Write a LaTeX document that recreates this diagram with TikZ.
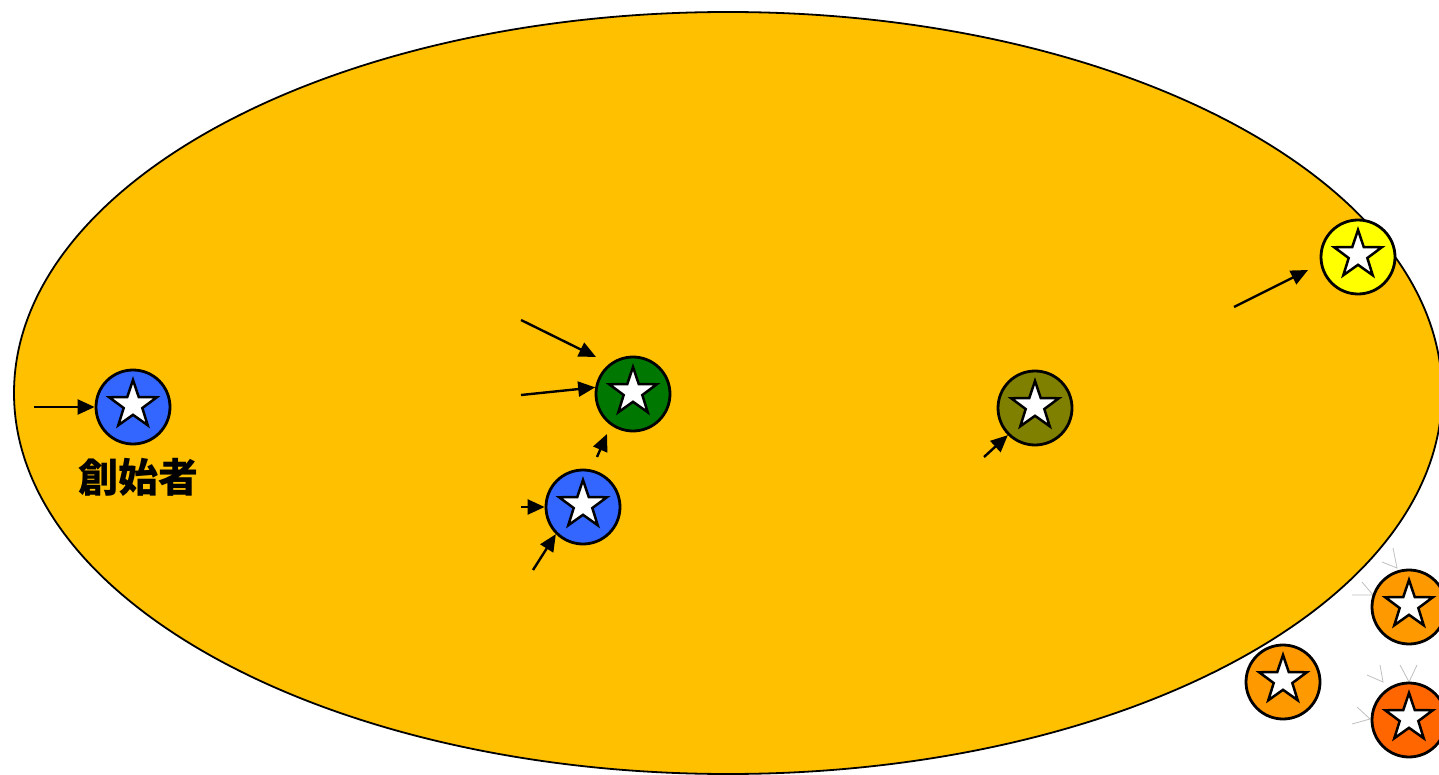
\documentclass[tikz,border=0pt]{standalone}
\usepackage{fontspec}
\newfontfamily\cjk{Noto Sans CJK JP}
\usetikzlibrary{shapes.geometric,arrows.meta}
\definecolor{ellfill}{HTML}{FFC000}
\definecolor{cblue}{HTML}{3366FF}
\definecolor{cgreen}{HTML}{007700}
\definecolor{colive}{HTML}{808000}
\definecolor{cyellow}{HTML}{FFFF00}
\definecolor{corange}{HTML}{FF9900}
\definecolor{cdorange}{HTML}{FF6600}
\definecolor{ghost}{HTML}{C0C0C0}
\tikzset{
  member/.style={circle, draw=black, line width=2.8pt, minimum size=74pt, inner sep=0pt},
  starmark/.style={star, star points=5, star point ratio=2.55, draw=black, line width=2.5pt, fill=white, minimum size=50pt, inner sep=0pt},
  arr/.style={line width=2.4pt, -{Triangle[length=17pt,width=15pt]}},
  ghostline/.style={draw=ghost, line width=0.8pt}
}
\begin{document}
\begin{tikzpicture}[x=1pt,y=-1pt]
\useasboundingbox (0,0) rectangle (1439,775);
\clip (0,0) rectangle (1439,775);
\fill[white] (0,0) rectangle (1439,775);
\draw[fill=ellfill, line width=1.8pt] (728,393) ellipse [x radius=714, y radius=381];

% ghost arrowheads
\draw[ghostline] (1393,548) -- (1397,568) -- (1382,562);
\draw[ghostline] (1362,582) -- (1373,595) -- (1352,595);
\draw[ghostline] (1380,665) -- (1383,682) -- (1367,675);
\draw[ghostline] (1400,665) -- (1409,682) -- (1417,665);
\draw[ghostline] (1357,707) -- (1370,719) -- (1352,724);

% members
\node[member, fill=cblue] (founder) at (133,407) {};
\node[starmark] (sfounder) at (133,405) {};
\node[member, fill=cgreen] (green) at (633,394) {};
\node[starmark] (sgreen) at (633,392) {};
\node[member, fill=cblue] (blue) at (583,507) {};
\node[starmark] (sblue) at (583,505) {};
\node[member, fill=colive] (olive) at (1035,408) {};
\node[starmark] (solive) at (1035,406) {};
\node[member, fill=cyellow] (yellow) at (1358,257) {};
\node[starmark] (syellow) at (1358,255) {};
\node[member, fill=corange] (orangeA) at (1409,607) {};
\node[starmark] (sorangeA) at (1409,605) {};
\node[member, fill=corange] (orangeB) at (1283,682) {};
\node[starmark] (sorangeB) at (1283,680) {};
\node[member, fill=cdorange] (orangeC) at (1409,720) {};
\node[starmark] (sorangeC) at (1409,718) {};

\node[font=\cjk\bfseries\fontsize{40}{44}\selectfont] (label) at (138,477) {創始者};

% arrow start and end points
\coordinate (a1) at (34,407);
\coordinate (a2) at (521,320);
\coordinate (e2) at (596,357);
\coordinate (a3) at (521,395);
\coordinate (a4) at (597,457);
\coordinate (e4) at (607,434);
\coordinate (a5) at (521,507);
\coordinate (a6) at (533,570);
\coordinate (a7) at (984,457);
\coordinate (a8) at (1234,307);
\coordinate (e8) at (1308,270);

\draw[arr] (a1) -- (founder.west);
\draw[arr] (a2) -- (e2);
\draw[arr] (a3) -- (green.170);
\draw[arr] (a4) -- (e4);
\draw[arr] (a5) -- (blue.west);
\draw[arr] (a6) -- (blue.225);
\draw[arr] (a7) -- (olive.225);
\draw[arr] (a8) -- (e8);
\end{tikzpicture}
\end{document}
